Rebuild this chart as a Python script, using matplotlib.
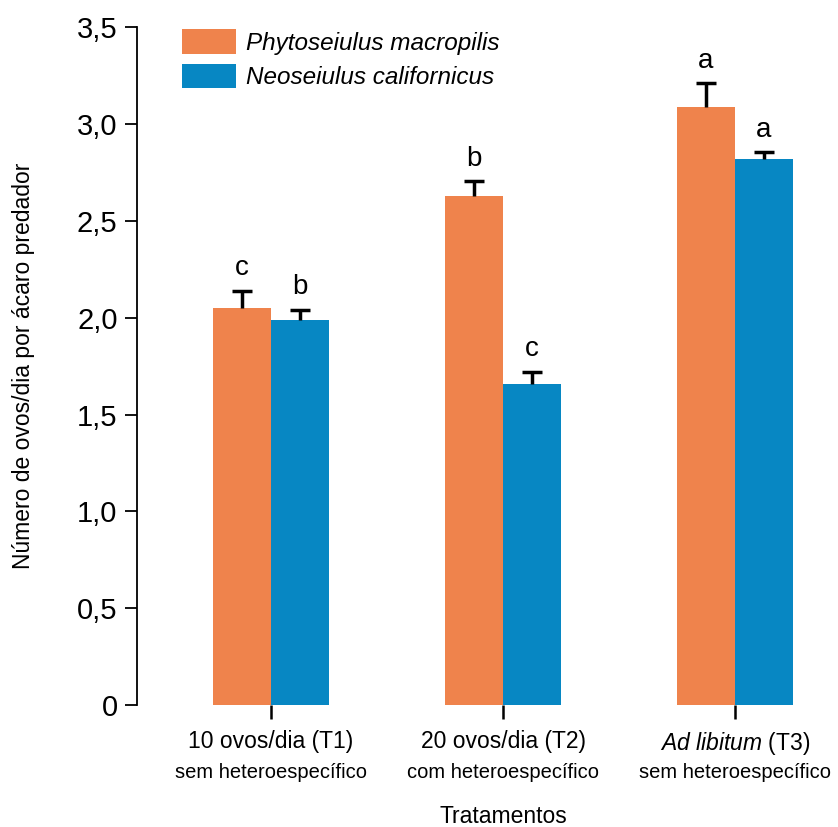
import numpy as np
from matplotlib import pyplot as plt
from matplotlib.patches import Patch

plt.rcParams['font.family'] = 'Liberation Sans'
plt.rcParams['mathtext.fontset'] = 'custom'
plt.rcParams['mathtext.rm'] = 'Liberation Sans'
plt.rcParams['mathtext.it'] = 'Liberation Sans:italic'

# Data
groups = ['10 ovos/dia (T1)', '20 ovos/dia (T2)', r'$\mathit{Ad\ libitum}$ (T3)']
subgroups = ['sem heteroespecífico', 'com heteroespecífico', 'sem heteroespecífico']
species = ['Phytoseiulus macropilis', 'Neoseiulus californicus']
p_mean = [2.05, 2.63, 3.09]
p_err = [0.09, 0.075, 0.12]
n_mean = [1.99, 1.66, 2.82]
n_err = [0.05, 0.06, 0.035]
p_letters = ['c', 'b', 'a']
n_letters = ['b', 'c', 'a']

orange = '#EF834C'
blue = '#0787C3'

fig = plt.figure(figsize=(8.38, 8.27), dpi=100)
ax = fig.add_axes([0.1635, 0.1475, 0.8365, 0.8195])

x = np.arange(len(groups))
w = 0.25
ax.bar(x - w/2, p_mean, w, color=orange)
ax.bar(x + w/2, n_mean, w, color=blue)

# upper-only error bars with a single cap
cap = 0.042
for xs, m, e in [(x - w/2, p_mean, p_err), (x + w/2, n_mean, n_err)]:
    tops = np.array(m) + np.array(e)
    ax.vlines(xs, m, tops, color='black', linewidth=2.5)
    ax.hlines(tops, xs - cap, xs + cap, color='black', linewidth=2.5)

for i in range(3):
    ax.text(x[i] - w/2, p_mean[i] + p_err[i] + 0.05, p_letters[i],
            ha='center', va='bottom', fontsize=20)
    ax.text(x[i] + w/2, n_mean[i] + n_err[i] + 0.05, n_letters[i],
            ha='center', va='bottom', fontsize=20)

ax.set_xlim(-0.578, 2.444)
ax.set_ylim(0, 3.5)
ax.set_yticks(np.arange(0, 3.51, 0.5))
ax.set_yticklabels(['0'] + [('%.1f' % v).replace('.', ',') for v in np.arange(0.5, 3.51, 0.5)])
ax.set_xticks(x)
ax.set_xticklabels(groups, fontsize=16.5)
ax.tick_params(axis='y', labelsize=21, length=9, width=1.3, pad=5)
ax.tick_params(axis='x', length=10, width=1.8, pad=8)

for i in range(3):
    ax.text(x[i], -0.085, subgroups[i], transform=ax.get_xaxis_transform(),
            ha='center', va='top', fontsize=14.5)

ax.text(1, -0.165, 'Tratamentos', transform=ax.get_xaxis_transform(),
        ha='center', va='center', fontsize=16.5)
ax.set_ylabel('Número de ovos/dia por ácaro predador', fontsize=16.5, labelpad=30)

for s in ['top', 'right', 'bottom']:
    ax.spines[s].set_visible(False)
ax.spines['left'].set_linewidth(1.3)

handles = [Patch(facecolor=orange), Patch(facecolor=blue)]
leg = ax.legend(handles, species, loc='upper left', bbox_to_anchor=(0.04, 1.022),
                frameon=False, prop={'style': 'italic', 'size': 17.5},
                handlelength=2.2, handleheight=1.2, handletextpad=0.45, labelspacing=0.35,
                borderaxespad=0.3)

fig.savefig('out.png', dpi=100)
